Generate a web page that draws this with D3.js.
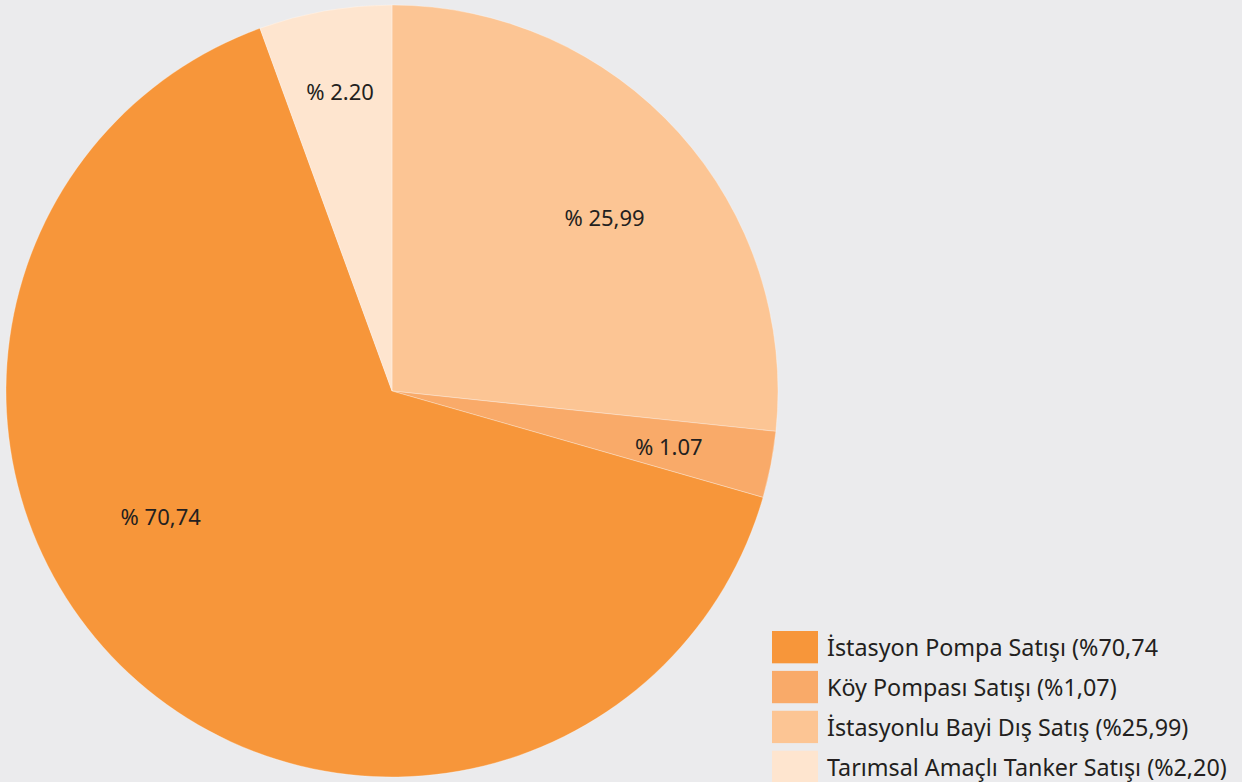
<!DOCTYPE html>
<html>
<head>
<meta charset="utf-8">
<script src="https://cdn.jsdelivr.net/npm/d3@7/dist/d3.min.js"></script>
<style>
  html, body { margin: 0; padding: 0; background: #ebebed; }
  svg { display: block; }
  text { font-family: "Noto Sans", "Open Sans", sans-serif; fill: #231f20; }
</style>
</head>
<body>
<svg id="chart"></svg>
<script>
// categories, in drawing order (clockwise from 12 o'clock)
var categories = ["İstasyonlu Bayi Dış Satış", "Köy Pompası Satışı", "İstasyon Pompa Satışı", "Tarımsal Amaçlı Tanker Satışı"];
var shares = [96.0, 10.0, 234.0, 20.0];
// labels printed on the slices
var sliceLabels = ["% 25,99", "% 1.07", "% 70,74", "% 2.20"];
// legend order and text
var legendCats = ["İstasyon Pompa Satışı", "Köy Pompası Satışı", "İstasyonlu Bayi Dış Satış", "Tarımsal Amaçlı Tanker Satışı"];
var legendText = ["İstasyon Pompa Satışı (%70,74", "Köy Pompası Satışı (%1,07)", "İstasyonlu Bayi Dış Satış (%25,99)", "Tarımsal Amaçlı Tanker Satışı (%2,20)"];

var width = 1242, height = 782;
var cx = 392, cy = 391, radius = 386;

var color = d3.scaleOrdinal()
  .domain(legendCats)
  .range(["#f7963a", "#f9aa69", "#fcc594", "#fee5cf"]);

var svg = d3.select("#chart").attr("width", width).attr("height", height);

var pie = d3.pie().sort(null).value(function(d){ return d; });
var arcs = pie(shares);

var arc = d3.arc().innerRadius(0).outerRadius(radius);
var g = svg.append("g").attr("transform", "translate(" + cx + "," + cy + ")");

g.selectAll("path").data(arcs).enter().append("path")
  .attr("d", arc)
  .attr("fill", function(d, i){ return color(categories[i]); })
  .attr("stroke", "#fff")
  .attr("stroke-opacity", 0.5)
  .attr("stroke-width", 0.6);

// slice labels: along the slice's middle angle, nudged like the original
var labelArc = d3.arc().innerRadius(0).outerRadius(2 * 282);
var nudge = [[3, 15], [0, 1], [-39, -81], [-3, -22]];
g.selectAll("text.lbl").data(arcs).enter().append("text")
  .attr("class", "lbl")
  .attr("x", function(d, i){ return labelArc.centroid(d)[0] + nudge[i][0]; })
  .attr("y", function(d, i){ return labelArc.centroid(d)[1] + nudge[i][1]; })
  .attr("text-anchor", "middle")
  .attr("dominant-baseline", "central")
  .style("font-size", "22px")
  .text(function(d, i){ return sliceLabels[i]; });

// legend
var ly = d3.scaleBand().domain(legendCats).range([631, 783]).paddingInner(0.19).paddingOuter(0);
var leg = svg.append("g");
leg.selectAll("rect").data(legendCats).enter().append("rect")
  .attr("x", 772).attr("y", function(d){ return ly(d); })
  .attr("width", 46).attr("height", ly.bandwidth())
  .attr("fill", function(d){ return color(d); });
leg.selectAll("text").data(legendCats).enter().append("text")
  .attr("x", 827)
  .attr("y", function(d){ return ly(d) + ly.bandwidth() / 2 + 9; })
  .style("font-size", "23.3px")
  .text(function(d, i){ return legendText[i]; });
</script>
</body>
</html>
